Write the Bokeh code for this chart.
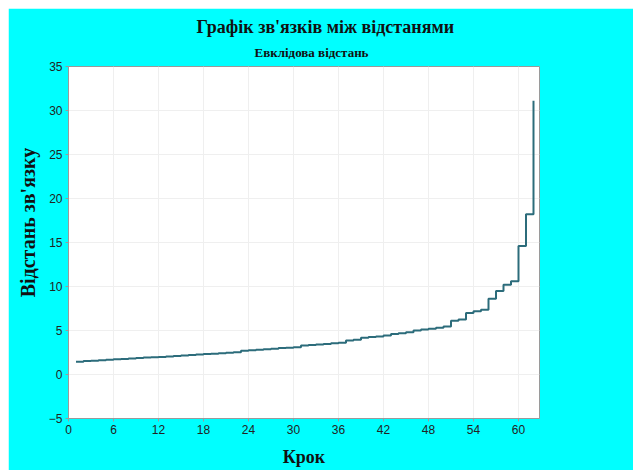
from bokeh.plotting import figure
from bokeh.layouts import row
from bokeh.models import Title, Legend, LegendItem, FixedTicker, Range1d
from bokeh.embed import file_html
from bokeh.resources import INLINE

# ---- data ----
steps = list(range(1, 63))
distances = [1.45, 1.52, 1.57, 1.62, 1.67, 1.72, 1.77, 1.82, 1.87, 1.92,
             1.96, 2.00, 2.05, 2.10, 2.17, 2.22, 2.28, 2.33, 2.37, 2.42,
             2.46, 2.52, 2.70, 2.76, 2.82, 2.88, 2.94, 3.00, 3.05, 3.10,
             3.30, 3.36, 3.42, 3.48, 3.54, 3.60, 3.86, 3.95, 4.17, 4.25,
             4.33, 4.42, 4.60, 4.70, 4.80, 5.00, 5.10, 5.20, 5.30, 5.45,
             6.10, 6.25, 7.00, 7.20, 7.35, 8.60, 9.50, 10.20, 10.60, 14.60,
             18.20, 31.10]
x_ticks = [0, 6, 12, 18, 24, 30, 36, 42, 48, 54, 60]
y_ticks = [-5, 0, 5, 10, 15, 20, 25, 30, 35]
title_text = "Графік зв'язків між відстанями"
subtitle_text = "Евклідова відстань"
x_label = "Крок"
y_label = "Відстань зв'язку"
legend_line1 = "Відстань"
legend_line2 = "зв'язку"

LINE_COLOR = "#2c6c7b"
BG = "#00FFFF"

W, H = 625, 462
p = figure(width=W, height=H, output_backend="svg", toolbar_location=None,
           title=None, x_range=Range1d(0, 62.8), y_range=Range1d(-5, 35),
           min_border_left=60, min_border_right=94, min_border_bottom=52,
           min_border_top=58)
p.margin = (8, 0, 0, 8)
p.background_fill_color = "white"
p.border_fill_color = BG
p.outline_line_color = "#9a9a9a"
p.outline_line_width = 1

sub = Title(text=subtitle_text, align="left", offset=186,
            text_font="Liberation Serif", text_font_size="13px",
            text_font_style="bold", text_color="#111111", standoff=13)
main = Title(text=title_text, align="left", offset=128,
             text_font="Liberation Serif", text_font_size="18px",
             text_font_style="bold", text_color="#111111", standoff=0)
p.add_layout(sub, "above")
p.add_layout(main, "above")

r = p.step(steps, distances, mode="after", line_color=LINE_COLOR, line_width=2)

for ax in (p.xaxis[0], p.yaxis[0]):
    ax.major_label_text_font = "Liberation Sans"
    ax.major_label_text_font_size = "12px"
    ax.major_label_text_color = "#222222"
    ax.axis_line_color = "#9a9a9a"
    ax.major_tick_line_color = "#9a9a9a"
    ax.major_tick_out = 3
    ax.major_tick_in = 0
    ax.minor_tick_line_color = None
    ax.axis_label_text_font = "Liberation Serif"
    ax.axis_label_text_font_style = "bold"
    ax.axis_label_text_color = "#111111"
    ax.major_label_standoff = 3

p.xaxis.ticker = FixedTicker(ticks=x_ticks)
p.yaxis.ticker = FixedTicker(ticks=y_ticks)
p.xaxis.axis_label = x_label
p.yaxis.axis_label = "\u00a0" * 8 + y_label
p.xaxis.axis_label_text_font_size = "18px"
p.yaxis.axis_label_text_font_size = "20px"
p.xaxis.axis_label_standoff = 10
p.yaxis.axis_label_standoff = 7

p.xgrid.ticker = FixedTicker(ticks=x_ticks)
p.ygrid.ticker = FixedTicker(ticks=y_ticks)
p.grid.grid_line_color = "#efefef"
p.grid.grid_line_width = 1

# ---- legend, drawn in a small overlay figure in the lower-right corner ----
# (its ranges keep the series itself out of view; only the legend shows)
lg = figure(width=85, height=48, output_backend="svg", toolbar_location=None,
            title=None, x_range=Range1d(0, 1), y_range=Range1d(-1, 0),
            x_axis_location=None, y_axis_location=None, min_border=0)
lg.margin = (422, 0, 0, -85)
lg.background_fill_color = BG
lg.border_fill_color = BG
lg.outline_line_color = None
lg.grid.visible = False
lr = lg.step(steps, distances, mode="after", line_color=LINE_COLOR, line_width=2)
ld = lg.step(steps, distances, mode="after", line_alpha=0)
legend = Legend(items=[LegendItem(label=legend_line1, renderers=[lr]),
                       LegendItem(label=legend_line2, renderers=[ld])],
                location=(0, 1), background_fill_alpha=0,
                border_line_color=None, label_text_font="Liberation Sans",
                label_text_font_size="11px", label_text_color="#2a2a4a",
                glyph_width=18, glyph_height=18, label_height=18,
                padding=0, margin=0, spacing=0, label_standoff=6)
lg.add_layout(legend, "center")

layout = row(p, lg)
open("out.html", "w").write(file_html(layout, INLINE))
